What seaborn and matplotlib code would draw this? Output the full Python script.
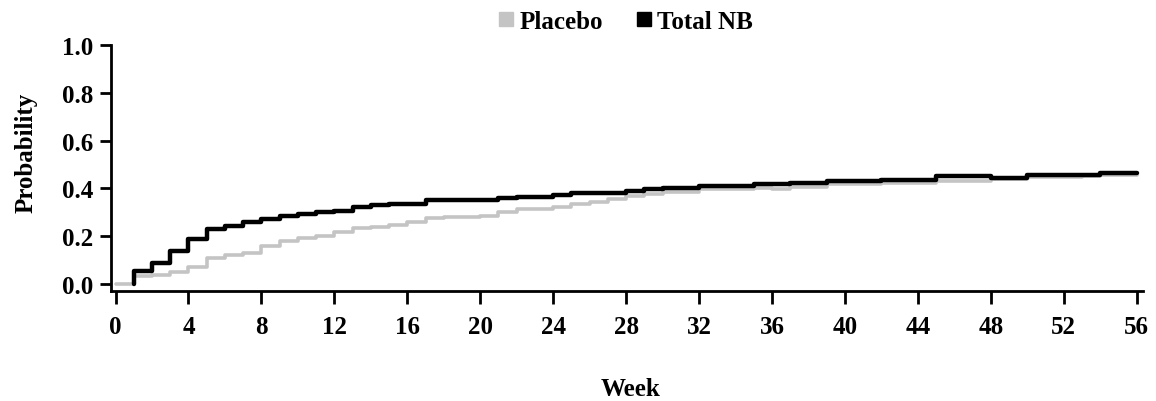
import matplotlib
matplotlib.use("Agg")
import matplotlib.pyplot as plt
from matplotlib.lines import Line2D
import seaborn as sns
import pandas as pd

# Data, step curves: value holds from given week onward
placebo_weeks = [0, 1, 2, 3, 4, 5, 6, 7, 8, 9, 10, 11, 12, 13, 14, 15, 16, 17,
                 18, 20, 21, 22, 24, 25, 26, 27, 28, 29, 30, 32, 33, 35, 36,
                 37, 39, 42, 45, 48, 50, 53, 54, 56]
placebo_vals = [0.0, 0.032, 0.035, 0.05, 0.07, 0.109, 0.12, 0.13, 0.158, 0.18,
                0.19, 0.20, 0.215, 0.233, 0.24, 0.245, 0.258, 0.275, 0.28,
                0.285, 0.30, 0.314, 0.32, 0.335, 0.343, 0.354, 0.367, 0.377,
                0.384, 0.395, 0.398, 0.403, 0.397, 0.405, 0.416, 0.423, 0.43,
                0.44, 0.446, 0.45, 0.455, 0.455]
nb_weeks = [1, 1.001, 2, 3, 4, 5, 6, 7, 8, 9, 10, 11, 12, 13, 14, 15, 17, 19,
            21, 22, 24, 25, 28, 29, 30, 32, 33, 35, 37, 39, 42, 45, 48, 50, 54, 56]
nb_vals = [0.0, 0.055, 0.088, 0.137, 0.186, 0.23, 0.243, 0.258, 0.27, 0.282,
           0.293, 0.30, 0.307, 0.321, 0.33, 0.334, 0.351, 0.35, 0.36, 0.365,
           0.374, 0.38, 0.39, 0.395, 0.403, 0.408, 0.41, 0.416, 0.422, 0.431,
           0.435, 0.45, 0.444, 0.457, 0.464, 0.464]
x_ticks = list(range(0, 57, 4))
y_ticks = [0.0, 0.2, 0.4, 0.6, 0.8, 1.0]
series_names = ["Placebo", "Total NB"]
series_colors = ["#c4c4c4", "#000000"]

sns.set_theme(style="white")
plt.rcParams["font.family"] = ["Liberation Serif", "DejaVu Serif"]
plt.rcParams["font.weight"] = "bold"
plt.rcParams["text.color"] = "black"
plt.rcParams["axes.labelcolor"] = "black"

FS = 18

fig = plt.figure(figsize=(11.56, 4.02), dpi=100)
ax = fig.add_axes([0.096, 0.2736, 0.8928, 0.612])

df_p = pd.DataFrame({"Week": placebo_weeks, "Probability": placebo_vals})
df_n = pd.DataFrame({"Week": nb_weeks, "Probability": nb_vals})

sns.lineplot(data=df_p, x="Week", y="Probability", ax=ax, color=series_colors[0],
             linewidth=2.6, drawstyle="steps-post", estimator=None, sort=False)
sns.lineplot(data=df_n, x="Week", y="Probability", ax=ax, color=series_colors[1],
             linewidth=3.2, drawstyle="steps-post", estimator=None, sort=False)

ax.set_xlim(-0.25, 56.35)
ax.set_ylim(-0.03, 1.0)
ax.set_xticks(x_ticks)
ax.set_yticks(y_ticks)
ax.set_yticklabels([f"{v:.1f}" for v in y_ticks])
ax.tick_params(axis="both", direction="out", width=2, labelsize=FS,
               colors="black", bottom=True, left=True)
ax.tick_params(axis="x", length=9, pad=8)
ax.tick_params(axis="y", length=8, pad=5)
for lab in ax.get_xticklabels() + ax.get_yticklabels():
    lab.set_fontweight("bold")
for s in ["top", "right"]:
    ax.spines[s].set_visible(False)
for s in ["left", "bottom"]:
    ax.spines[s].set_linewidth(2)
    ax.spines[s].set_color("black")

ax.set_xlabel("Week", fontsize=FS, fontweight="bold", color="black")
ax.set_ylabel("Probability", fontsize=FS, fontweight="bold", color="black")
ax.xaxis.set_label_coords(0.503, -0.35)
ax.yaxis.set_label_coords(-0.071, 0.565)

handles = [Line2D([], [], marker="s", linestyle="none", markersize=9.5,
                  markerfacecolor=c, markeredgecolor=c) for c in series_colors]
leg = fig.legend(handles, series_names, loc="center", bbox_to_anchor=(0.5415, 0.945),
                 ncol=2, frameon=False, prop={"size": FS, "weight": "bold"},
                 handlelength=0.6, handletextpad=0.25, columnspacing=1.3,
                 borderpad=0.0, borderaxespad=0.0)
for t in leg.get_texts():
    t.set_color("black")

fig.savefig("out.png", dpi=100)
